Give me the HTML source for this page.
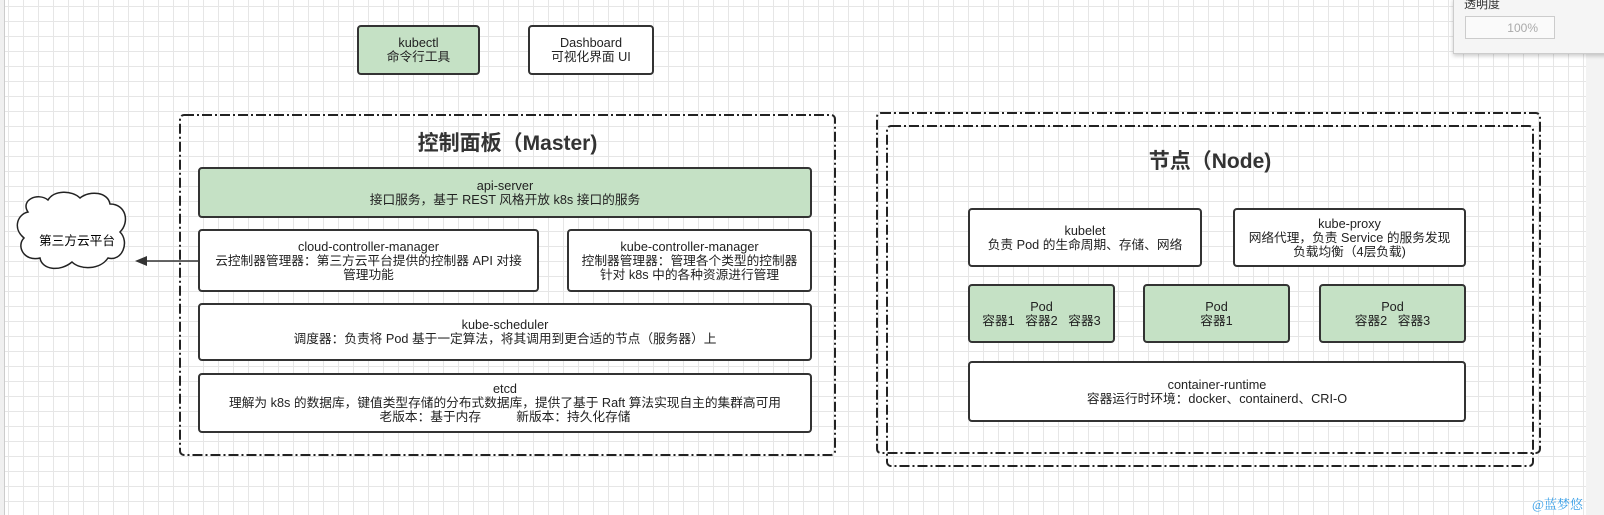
<!DOCTYPE html>
<html><head><meta charset="utf-8"><style>
body{margin:0;width:1604px;height:515px;overflow:hidden;position:relative;font-family:"Liberation Sans","Noto Sans CJK SC",sans-serif;
background-color:#fff;background-image:linear-gradient(#e6e6e6 1px,transparent 1px),linear-gradient(90deg,#e6e6e6 1px,transparent 1px);background-size:15px 15px;background-position:8px 6px;}
.b{position:absolute;box-sizing:border-box;border:2px solid #333;border-radius:4px;background:#fff;display:flex;align-items:center;justify-content:center;text-align:center;font-size:12.7px;line-height:14px;color:#222}
.g{background:#c5e1c5}
.t{position:absolute;font-weight:bold;font-size:21px;color:#333;text-align:center}
</style></head><body>
<div style="position:absolute;left:0;top:0;width:4px;height:515px;background:#f0f0f0;border-right:1px solid #ccc"></div>
<div style="position:absolute;left:1586px;top:0;width:18px;height:515px;background:#f3f3f3"></div>
<div style="position:absolute;left:1453px;top:-2px;width:160px;height:54px;background:#f5f5f5;border:1px solid #ccc;box-shadow:0 2px 4px rgba(0,0,0,.2);font-size:12px;color:#333">
<div style="position:absolute;left:10px;top:-4px">透明度</div>
<div style="position:absolute;left:11px;top:17px;width:90px;height:23px;border:1px solid #ccc;background:#fafafa;color:#aaa;text-align:right;line-height:23px;box-sizing:border-box;padding-right:16px;font-size:12px">100%</div></div>
<div class="b g" style="left:357px;top:25px;width:123px;height:50px">kubectl<br>命令行工具</div>
<div class="b" style="left:528px;top:25px;width:126px;height:50px">Dashboard<br>可视化界面 UI</div>
<svg style="position:absolute;left:0;top:0" width="1604" height="515">
<g fill="none" stroke="#222" stroke-width="2" stroke-dasharray="10,3,2,3">
<rect x="180" y="115" width="655" height="340" rx="4"/>
<rect x="877" y="113" width="663" height="340" rx="4"/>
<rect x="887" y="126" width="646" height="340" rx="4"/>
</g>
<path d="M28,212 C20,200 38,192 48,200 C54,190 72,190 80,198 C90,190 108,192 110,204 C126,204 130,222 120,232 C130,242 122,262 108,258 C100,270 80,270 72,262 C60,272 42,270 40,258 C24,262 16,246 24,238 C12,228 18,214 28,212 Z" fill="#fff" stroke="#222" stroke-width="1.5"/>
<line x1="200" y1="261" x2="145" y2="261" stroke="#333" stroke-width="1.5"/>
<path d="M135,261 L147,256 L147,266 Z" fill="#333"/>
</svg>
<div style="position:absolute;left:22px;top:230px;width:110px;text-align:center;font-size:12.7px">第三方云平台</div>
<div class="t" style="left:180px;top:127px;width:655px">控制面板（Master)</div>
<div class="t" style="left:887px;top:145px;width:646px">节点（Node)</div>
<div class="b g" style="left:198px;top:167px;width:614px;height:51px">api-server<br>接口服务，基于 REST 风格开放 k8s 接口的服务</div>
<div class="b" style="left:198px;top:229px;width:341px;height:63px">cloud-controller-manager<br>云控制器管理器：第三方云平台提供的控制器 API 对接<br>管理功能</div>
<div class="b" style="left:567px;top:229px;width:245px;height:63px">kube-controller-manager<br>控制器管理器：管理各个类型的控制器<br>针对 k8s 中的各种资源进行管理</div>
<div class="b" style="left:198px;top:303px;width:614px;height:58px">kube-scheduler<br>调度器：负责将 Pod 基于一定算法，将其调用到更合适的节点（服务器）上</div>
<div class="b" style="left:198px;top:373px;width:614px;height:60px">etcd<br>理解为 k8s 的数据库，键值类型存储的分布式数据库，提供了基于 Raft 算法实现自主的集群高可用<br>老版本：基于内存&nbsp;&nbsp;&nbsp;&nbsp;&nbsp;&nbsp;&nbsp;&nbsp;&nbsp;&nbsp;新版本：持久化存储</div>
<div class="b" style="left:968px;top:208px;width:234px;height:59px">kubelet<br>负责 Pod 的生命周期、存储、网络</div>
<div class="b" style="left:1233px;top:208px;width:233px;height:59px">kube-proxy<br>网络代理，负责 Service 的服务发现<br>负载均衡（4层负载)</div>
<div class="b g" style="left:968px;top:284px;width:147px;height:59px">Pod<br>容器1&nbsp;&nbsp;&nbsp;容器2&nbsp;&nbsp;&nbsp;容器3</div>
<div class="b g" style="left:1143px;top:284px;width:147px;height:59px">Pod<br>容器1</div>
<div class="b g" style="left:1319px;top:284px;width:147px;height:59px">Pod<br>容器2&nbsp;&nbsp;&nbsp;容器3</div>
<div class="b" style="left:968px;top:361px;width:498px;height:61px">container-runtime<br>容器运行时环境：docker、containerd、CRI-O</div>
<div style="position:absolute;left:1532px;top:494px;font-size:13px;color:#3aa0e8;font-family:'Liberation Serif','Noto Serif CJK SC',serif">@蓝梦悠</div>
</body></html>
